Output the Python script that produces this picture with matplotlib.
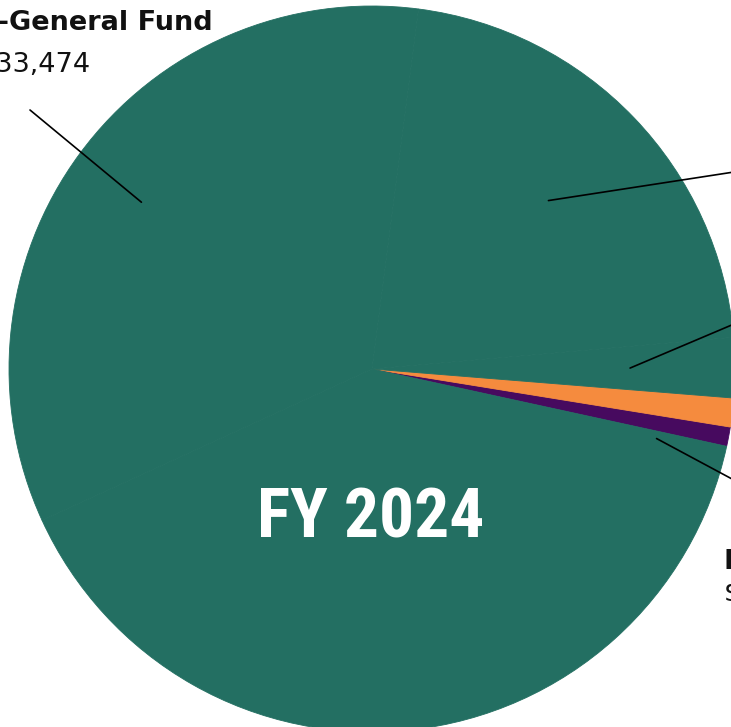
import numpy as np
import matplotlib.pyplot as plt

# slice shares (percent of total), drawn counter-clockwise from the start angle
names = ['Investment Income', 'Other Revenue', 'Grants', 'Fees', 'Non-General Fund', 'General Fund']
shares = [0.86, 1.28, 2.67, 21.56, 33.89, 39.74]
colors = ['#470A5F', '#F58B3E', '#236F62', '#236F62', '#236F62', '#236F62']

W, H = 731, 727
fig = plt.figure(figsize=(W / 100, H / 100), dpi=100)
ax = fig.add_axes([0, 0, 1, 1])

cx, cy, R = 372, H - 369, 363
wedges, _ = ax.pie(shares, colors=colors, startangle=-12.3, counterclock=True,
                   center=(cx, cy), radius=R)
for w, c in zip(wedges, colors):
    w.set_edgecolor(c)
    w.set_linewidth(0.6)
ax.set_xlim(0, W)
ax.set_ylim(0, H)
ax.set_aspect('equal')
ax.axis('off')


def anchor(w, frac, rfrac):
    ang = np.deg2rad(w.theta1 + frac * (w.theta2 - w.theta1))
    return cx + rfrac * R * np.cos(ang), cy + rfrac * R * np.sin(ang)


# leader lines: (wedge index, position along wedge, radius fraction, far end)
leaders = [(4, 0.504, 0.784, (30, H - 110)),
           (3, 0.498, 0.672, (760, H - 168)),
           (2, 0.50, 0.711, (760, H - 313)),
           (5, 0.990, 0.807, (760, H - 494))]
for i, f, r, end in leaders:
    ax.annotate('', xy=anchor(wedges[i], f, r), xytext=end,
                arrowprops=dict(arrowstyle='-', color='black', lw=1.2,
                                shrinkA=0, shrinkB=0), annotation_clip=False)

lab = dict(family='DejaVu Sans', color='#111111', fontsize=19.5)
ax.text(213, H - 30, 'Non-General Fund', ha='right', va='baseline', fontweight='bold', **lab)
ax.text(91, H - 72, '$1,133,474', ha='right', va='baseline', fontweight='normal', **lab)
ax.text(724, H - 569, 'Investment Income', ha='left', va='baseline', fontweight='bold', **lab)
ax.text(724, H - 601, '$95,210', ha='left', va='baseline', fontweight='normal', **lab)

ax.text(371, H - 538, 'FY 2024', ha='center', va='baseline', color='white',
        fontsize=50, fontweight='bold', family=['Roboto Condensed', 'Roboto', 'DejaVu Sans'])

fig.savefig('out.png', dpi=100)
